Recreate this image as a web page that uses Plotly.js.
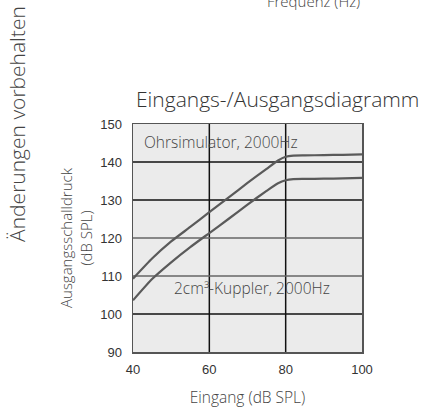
<!DOCTYPE html>
<html><head><meta charset="utf-8">
<script src="https://cdn.plot.ly/plotly-3.0.1.min.js"></script>
<style>html,body{margin:0;padding:0;background:#fff;}#chart{width:425px;height:409px;}</style>
</head><body><div id="chart"></div>
<script>
const inputLevels = [40, 45, 50, 55, 60, 65, 70, 75, 78, 80, 82, 85, 90, 95, 100];
const earSimulator = [109.3, 114.6, 119.1, 122.9, 126.8, 130.6, 134.5, 138.2, 140.4, 141.4, 141.7, 141.75, 141.8, 141.9, 142.0];
const coupler2cc = [103.6, 109.2, 113.6, 117.6, 121.3, 125.0, 128.8, 132.4, 134.4, 135.2, 135.5, 135.55, 135.6, 135.7, 135.8];
const xTicks = [40, 60, 80, 100];
const yTicks = [90, 100, 110, 120, 130, 140, 150];
const blackGridX = [60, 80];
const blackGridY = [100, 130, 140];
const grayGridY = [110, 120];

const FONT = '"Open Sans", Lato, sans-serif';
const TICKFONT = '"Liberation Sans", Arial, sans-serif';
const lineStyle = {color: '#5a5a5a', width: 2.2, shape: 'spline', smoothing: 0.5};

const traces = [
  {x: inputLevels, y: earSimulator, mode: 'lines', line: lineStyle, name: 'Ohrsimulator, 2000Hz', hoverinfo: 'skip'},
  {x: inputLevels, y: coupler2cc, mode: 'lines', line: lineStyle, name: '2cm³-Kuppler, 2000Hz', hoverinfo: 'skip'}
];

const shapes = [];
blackGridX.forEach(v => shapes.push({type: 'line', xref: 'x', yref: 'paper', x0: v, x1: v, y0: 0, y1: 1, line: {color: '#111', width: 1.5}, layer: 'below'}));
blackGridY.forEach(v => shapes.push({type: 'line', xref: 'paper', yref: 'y', x0: 0, x1: 1, y0: v, y1: v, line: {color: '#111', width: 1.5}, layer: 'below'}));
grayGridY.forEach(v => shapes.push({type: 'line', xref: 'paper', yref: 'y', x0: 0, x1: 1, y0: v, y1: v, line: {color: '#666', width: 1.5}, layer: 'below'}));

const light = (size, color) => ({family: FONT, size: size, color: color || '#444', weight: 300});

const layout = {
  width: 425, height: 409,
  margin: {l: 133, r: 63, t: 124, b: 57},
  paper_bgcolor: '#fff', plot_bgcolor: '#ebebeb',
  showlegend: false,
  font: {family: FONT, color: '#333', size: 12},
  xaxis: {range: [40, 100], tickvals: xTicks, showgrid: false, zeroline: false,
    showline: true, mirror: true, linecolor: '#555', linewidth: 1.5,
    ticks: 'outside', ticklen: 5, tickcolor: 'rgba(0,0,0,0)',
    tickfont: {family: TICKFONT, size: 13, color: '#333'},
    title: {text: 'Eingang (dB SPL)', font: light(15.5), standoff: 16}},
  yaxis: {range: [90, 150], tickvals: yTicks, showgrid: false, zeroline: false,
    showline: true, mirror: true, linecolor: '#555', linewidth: 1.5,
    ticks: 'outside', ticklen: 7, tickcolor: 'rgba(0,0,0,0)',
    tickfont: {family: TICKFONT, size: 13, color: '#333'},
    title: {text: 'Ausgangsschalldruck<br>(dB SPL)', font: light(15), standoff: 4}},
  shapes: shapes,
  annotations: [
    {text: 'Eingangs-/Ausgangsdiagramm', xref: 'paper', yref: 'paper', x: 0.005, y: 1.11, xanchor: 'left', yanchor: 'middle', showarrow: false, font: light(21, '#333')},
    {text: 'Frequenz (Hz)', xref: 'paper', yref: 'paper', x: 0.79, y: 1.54, xanchor: 'center', yanchor: 'middle', showarrow: false, font: light(15)},
    {text: 'Änderungen vorbehalten', xref: 'paper', yref: 'paper', x: -0.507, y: 1.0, xanchor: 'center', yanchor: 'middle', textangle: -90, showarrow: false, font: light(21)},
    {text: 'Ohrsimulator, 2000Hz', xref: 'x', yref: 'y', x: 42.4, y: 145.2, xanchor: 'left', yanchor: 'middle', showarrow: false, font: light(15.5)},
    {text: '2cm³-Kuppler, 2000Hz', xref: 'x', yref: 'y', x: 50.1, y: 106.9, xanchor: 'left', yanchor: 'middle', showarrow: false, font: light(15.5)}
  ]
};

Plotly.newPlot('chart', traces, layout, {staticPlot: true, displayModeBar: false});
</script></body></html>
